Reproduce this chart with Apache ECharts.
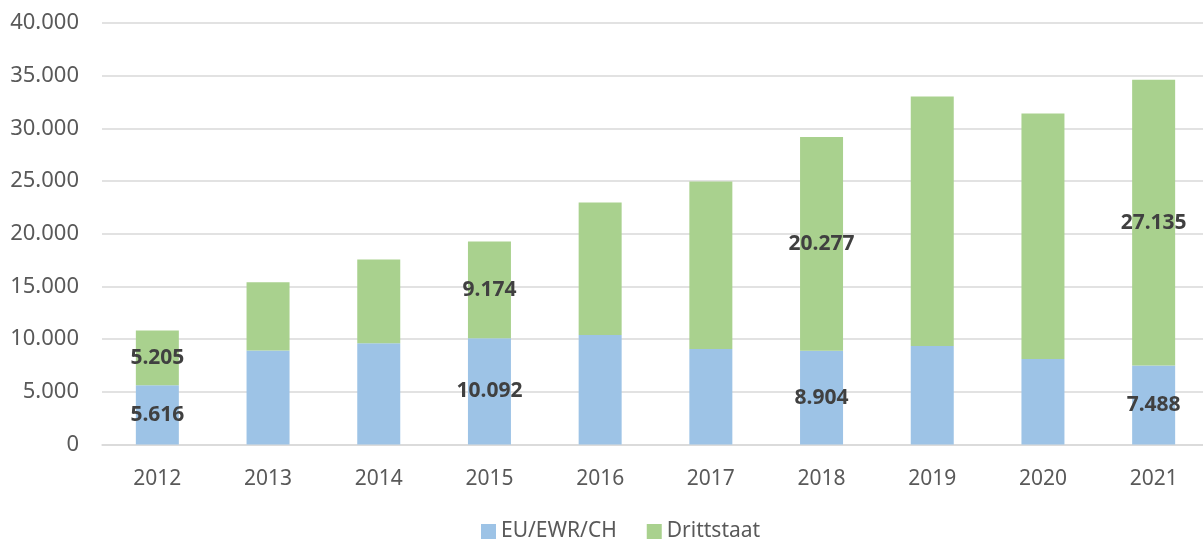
<!DOCTYPE html>
<html style="height: 100%">
<head>
    <meta charset="utf-8">
    <script src="https://cdn.jsdelivr.net/npm/echarts@6/dist/echarts.min.js"></script>
</head>
<body style="height: 100%; margin: 0; background: #fff">
<div id="container" style="width: 1203px; height: 541px"></div>
<script>
    // Daten
    var years = ['2012', '2013', '2014', '2015', '2016', '2017', '2018', '2019', '2020', '2021'];
    var euEwrCh = [5616, 8910, 9610, 10092, 10400, 9070, 8904, 9350, 8120, 7488];
    var drittstaat = [5205, 6490, 7940, 9174, 12560, 15890, 20277, 23680, 23300, 27135];
    // nur diese Jahre sind beschriftet
    var labelled = ['2012', '2015', '2018', '2021'];

    function fmt(v) {
        return String(v).replace(/\B(?=(\d{3})+(?!\d))/g, '.');
    }

    function withLabels(arr) {
        return arr.map(function (v, i) {
            return {value: v, label: {show: labelled.indexOf(years[i]) >= 0}};
        });
    }

    var labelStyle = {
        position: 'inside',
        fontFamily: 'Noto Sans',
        fontWeight: 'bold',
        fontSize: 21,
        color: '#404040',
        formatter: function (p) { return fmt(p.value); }
    };

    var myChart = echarts.init(document.getElementById('container'));
    var option = {
        animation: false,
        textStyle: {fontFamily: 'Noto Sans'},
        // Excel-Zeichenfläche ragt rechts leicht über den Bildrand hinaus
        grid: {left: 102, width: 1107, top: 23, bottom: 96.5, outerBoundsMode: 'none'},
        legend: {
            bottom: -6,
            left: 476,
            itemWidth: 15,
            itemHeight: 15,
            itemGap: 30,
            icon: 'rect',
            textStyle: {fontSize: 21, color: '#595959', fontFamily: 'Noto Sans'},
            data: ['EU/EWR/CH', 'Drittstaat']
        },
        xAxis: {
            type: 'category',
            data: years,
            axisLine: {lineStyle: {color: '#d9d9d9', width: 1.5}},
            axisTick: {show: false},
            axisLabel: {color: '#595959', fontSize: 21, margin: 24}
        },
        yAxis: {
            type: 'value',
            min: 0,
            max: 40000,
            interval: 5000,
            axisLine: {show: false},
            axisTick: {show: false},
            splitLine: {lineStyle: {color: '#d9d9d9', width: 1.5}},
            axisLabel: {
                color: '#595959', fontSize: 22, margin: 23,
                formatter: function (v) { return fmt(v); }
            }
        },
        series: [
            {
                name: 'EU/EWR/CH',
                type: 'bar',
                stack: 'gesamt',
                barWidth: 43,
                itemStyle: {color: '#9dc3e6'},
                label: labelStyle,
                data: withLabels(euEwrCh)
            },
            {
                name: 'Drittstaat',
                type: 'bar',
                stack: 'gesamt',
                barWidth: 43,
                itemStyle: {color: '#a9d18e'},
                label: labelStyle,
                data: withLabels(drittstaat)
            }
        ]
    };
    myChart.setOption(option);
</script>
</body>
</html>
